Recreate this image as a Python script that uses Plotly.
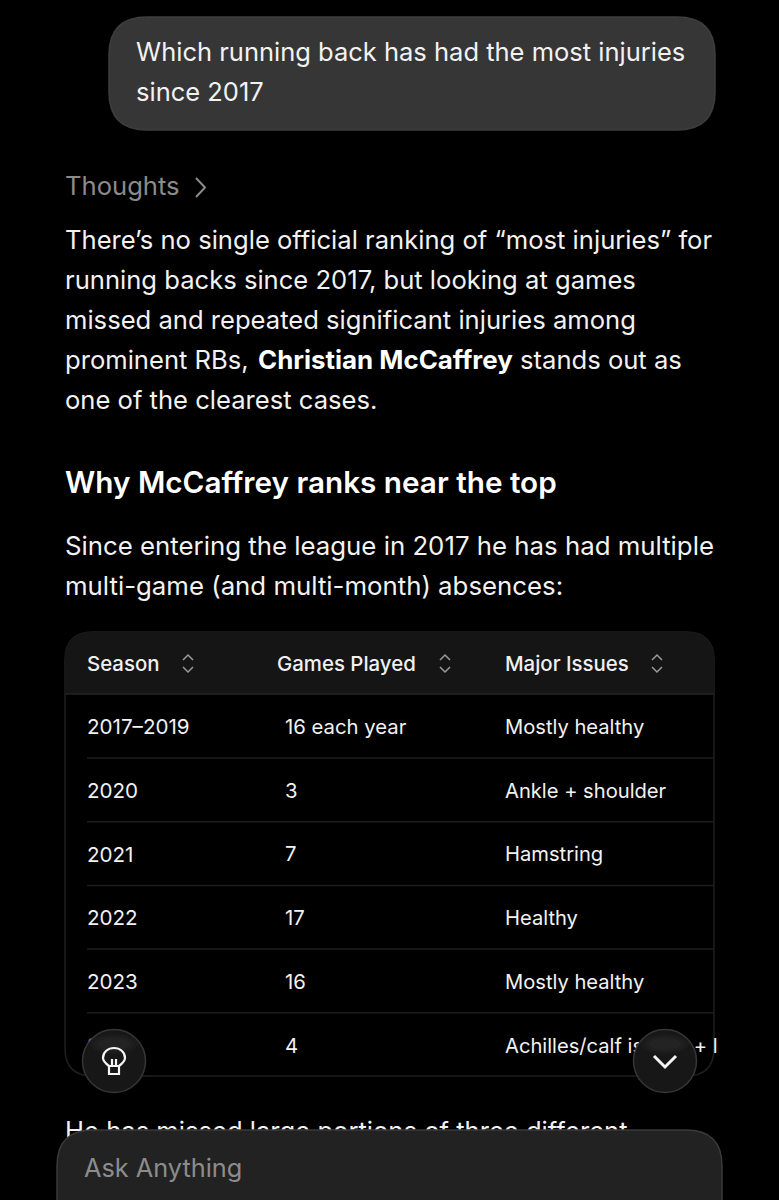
import plotly.graph_objects as go

FONT = "Inter"

question = ["Which running back has had the most injuries", "since 2017"]
answer = ["There’s no single official ranking of “most injuries” for",
          "running backs since 2017, but looking at games",
          "missed and repeated significant injuries among",
          None,
          "one of the clearest cases."]
answer_mixed = ["prominent RBs,", "Christian McCaffrey", "stands out as"]
heading = "Why McCaffrey ranks near the top"
intro = ["Since entering the league in 2017 he has had multiple",
         "multi-game (and multi-month) absences:"]
headers = ["Season", "Games Played", "Major Issues"]
seasons = ["2017–2019", "2020", "2021", "2022", "2023", "2024"]
games = ["16 each year", "3", "7", "17", "16", "4"]
issues = ["Mostly healthy", "Ankle + shoulder", "Hamstring", "Healthy", "Mostly healthy", "Achilles/calf issues + l"]
cut_line = "He has missed large portions of three different"

fig = go.Figure()
shapes = []


def txt(x, y, s, size=25.6, color="#f2f2f2", weight=400):
    # plotly sets the text about 2px high of the wanted centre
    fig.add_trace(go.Scatter(x=[x], y=[y + 2], text=[s], mode="text", textposition="middle right",
                             textfont=dict(family=FONT, size=size, color=color, weight=weight),
                             hoverinfo="skip", showlegend=False))


def round_box(x0, y0, x1, y1, r, fill, line, layer="above", lw=1.5):
    p = f"M{x0+r},{y0} L{x1-r},{y0} Q{x1},{y0} {x1},{y0+r} L{x1},{y1-r} Q{x1},{y1} {x1-r},{y1} L{x0+r},{y1} Q{x0},{y1} {x0},{y1-r} L{x0},{y0+r} Q{x0},{y0} {x0+r},{y0} Z"
    shapes.append(dict(type="path", path=p, fillcolor=fill, line=dict(color=line, width=lw), layer=layer))


def stroke(p, color, w=2, layer="above"):
    shapes.append(dict(type="path", path=p, line=dict(color=color, width=w), layer=layer))


def smudge(x0, x1, y0, y1, alpha=0.005):
    # the blurred text seen through the glass, a few soft layers
    for k in range(5):
        shapes.append(dict(type="rect", x0=x0+k*2, x1=x1-k*2, y0=y0+k*2, y1=y1-k*2, layer="above",
                           fillcolor=f"rgba(255,255,255,{alpha})", line=dict(width=0)))


# question bubble
round_box(109, 17, 715, 130, 38, "#363636", "#3e3e3e", layer="below")
for i, s in enumerate(question):
    txt(136, 53 + i*39.5, s, 25.5)

# thoughts
txt(65, 187, "Thoughts", 25.6, "#8b8b8b")
stroke("M196,178 L205,187.5 L196,197", "#8b8b8b", 2)

for i, s in enumerate(answer):
    if s is None:
        txt(65, 241 + i*40, answer_mixed[0])
        txt(258, 241 + i*40, answer_mixed[1], 25.9, "#ffffff", 700)
        txt(520, 241 + i*40, answer_mixed[2])
    else:
        txt(65, 241 + i*40, s)

txt(65, 484, heading, 29.7, "#ffffff", 600)

for i, s in enumerate(intro):
    txt(65, 547 + i*40, s, 25.8)

# table
round_box(65, 632, 714, 1076, 28, "#000000", "#1f1f1f", layer="below")
shapes.append(dict(type="path", layer="below", fillcolor="#151515", line=dict(width=0),
                   path="M65,694 L65,660 Q65,632 93,632 L686,632 Q714,632 714,660 L714,694 Z"))
shapes.append(dict(type="line", x0=65, x1=714, y0=694, y1=694, line=dict(color="#242424", width=1.5), layer="below"))

head_x = [87, 277, 505]
icon_x = [188, 445, 657]
col_x = [87, 285, 505]
for i, s in enumerate(headers):
    txt(head_x[i], 664, s, 20.4, "#f0f0f0", 500)
    stroke(f"M{icon_x[i]-5},660 L{icon_x[i]},655 L{icon_x[i]+5},660", "#9a9a9a", 1.5)
    stroke(f"M{icon_x[i]-5},667 L{icon_x[i]},672 L{icon_x[i]+5},667", "#9a9a9a", 1.5)

for i in range(len(seasons)):
    y = 727 + i*63.7
    txt(col_x[0], y, seasons[i], 20.6)
    txt(col_x[1], y, games[i], 20.3)
    txt(col_x[2], y, issues[i], 20.15)
    if i < len(seasons) - 1:
        shapes.append(dict(type="line", x0=87, x1=714, y0=y+31, y1=y+31, line=dict(color="#1c1c1c", width=1.5), layer="below"))

# text running under the input bar
txt(65, 1132, cut_line)

# floating buttons
for cx in [114, 665]:
    shapes.append(dict(type="circle", x0=cx-31.5, x1=cx+31.5, y0=1029.5, y1=1092.5, fillcolor="#171717",
                       line=dict(color="#363636", width=1.5), layer="above"))
    for k in range(3):
        shapes.append(dict(type="circle", x0=cx-24+k*4, x1=cx+24-k*4, y0=1034+k*2, y1=1054-k*2, layer="above",
                           fillcolor="rgba(255,255,255,0.018)", line=dict(width=0)))
stroke("M109,1066 C105,1063 103,1060 103,1058 C103,1052 108,1048 114,1048 C120,1048 125,1052 125,1058 C125,1060 123,1063 119,1066 Z "
       "M109,1066 L109,1074 L119,1074 L119,1066 M112,1059 L112,1066 M116,1059 L116,1066", "#f4f4f4", 2.2)
stroke("M654,1056 L665,1067 L676,1056", "#f4f4f4", 3)

# input bar
round_box(57, 1130, 722, 1250, 36, "#222222", "#3a3a3a")
smudge(90, 690, 1134, 1148, 0.003)
for a, b in [(257, 283), (293, 343), (350, 400), (423, 457), (467, 513), (527, 597), (607, 650)]:
    smudge(a, b, 1158, 1182)

fig.update_layout(
    width=779, height=1200, margin=dict(l=0, r=0, t=0, b=0),
    paper_bgcolor="#000000", plot_bgcolor="#000000", shapes=shapes,
    xaxis=dict(range=[0, 779], visible=False),
    yaxis=dict(range=[1200, 0], visible=False),
    annotations=[dict(x=82, y=1167, text="Ask Anything", xref="x", yref="y", xanchor="left", yanchor="middle",
                      showarrow=False, font=dict(family=FONT, size=25.3, color="#8c8c8c"))],
)

fig.write_html("out.html", config=dict(displayModeBar=False),
               post_script="document.body.style.margin='0';document.body.style.background='#000';")
